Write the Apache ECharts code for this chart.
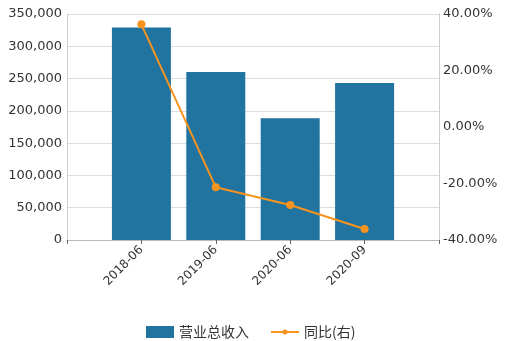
<!DOCTYPE html>
<html><head><meta charset="utf-8">
<script src="https://cdn.jsdelivr.net/npm/echarts@6/dist/echarts.min.js"></script>
<style>html,body{margin:0;padding:0;background:#fff}#c{width:512px;height:341px}</style>
</head><body><div id="c"></div>
<script>
var categories = ['', '2018-06', '2019-06', '2020-06', '2020-09', ''];
var revenue = [null, 329000, 260000, 188500, 243000, null];
var yoy = [null, 36.35, -21.35, -27.6, -36.1, null];
var leftTicks = {min: 0, max: 350000, interval: 50000};
var rightTicks = {min: -40, max: 40, interval: 20};

var chart = echarts.init(document.getElementById('c'), null, {renderer: 'canvas'});
var font = 'DejaVu Sans';
var lineIcon = 'path://M0,5h28v2h-28z M11.5,6a2.5,2.5 0 1,1 5,0a2.5,2.5 0 1,1 -5,0z';
chart.setOption({
  animation: false,
  grid: {left: 67, right: 73, top: 14, bottom: 101},
  legend: {
    left: 141, top: 320,
    itemWidth: 28, itemHeight: 12, itemGap: 22,
    textStyle: {fontFamily: 'Noto Sans CJK SC', fontSize: 14, color: '#333'},
    data: [
      {name: '营业总收入', icon: 'rect'},
      {name: '同比(右)', icon: lineIcon, itemStyle: {color: '#f7931e', borderWidth: 0}}
    ]
  },
  xAxis: {
    type: 'category', data: categories, boundaryGap: false,
    axisLine: {lineStyle: {color: '#bbb'}},
    axisTick: {show: true, lineStyle: {color: '#666'}, length: 4},
    axisLabel: {rotate: 45, fontFamily: font, fontSize: 12, color: '#333', margin: 8, interval: 0},
    splitLine: {show: false}
  },
  yAxis: [
    {
      type: 'value', min: leftTicks.min, max: leftTicks.max, interval: leftTicks.interval,
      axisLine: {show: true, lineStyle: {color: '#ccc'}},
      axisTick: {show: false},
      axisLabel: {fontFamily: font, fontSize: 13, color: '#333', margin: 5,
        formatter: function (v) { return v.toLocaleString('en-US'); }},
      splitLine: {lineStyle: {color: '#ddd'}}
    },
    {
      type: 'value', min: rightTicks.min, max: rightTicks.max, interval: rightTicks.interval,
      axisLine: {show: true, lineStyle: {color: '#ccc'}},
      axisTick: {show: false},
      axisLabel: {fontFamily: font, fontSize: 13, color: '#333', margin: 4,
        formatter: function (v) { return v.toFixed(2) + '%'; }},
      splitLine: {show: false}
    }
  ],
  series: [
    {
      name: '营业总收入', type: 'bar', data: revenue, barWidth: 59,
      itemStyle: {color: '#21749f'}
    },
    {
      name: '同比(右)', type: 'line', yAxisIndex: 1, data: yoy,
      symbol: 'circle', symbolSize: 8, showAllSymbol: true,
      lineStyle: {color: '#f7931e', width: 2},
      itemStyle: {color: '#f7931e'}
    }
  ]
});
</script></body></html>
